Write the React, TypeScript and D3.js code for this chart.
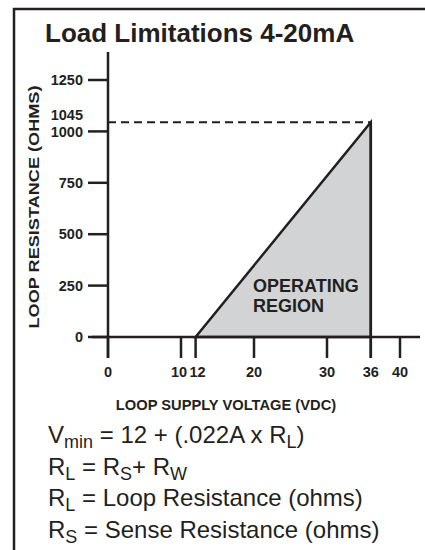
import * as d3 from "d3";

// chart values
const xTicks = [0, 10, 12, 20, 30, 36, 40];
const yTicks = [0, 250, 500, 750, 1000, 1250];
const xDomain = [0, 40];
const yDomain = [0, 1250];
const maxLoad = 1045;
// operating region corners: [volts, ohms]
const region: [number, number][] = [
  [12, 0],
  [36, 1045],
  [36, 0],
];

// formula lines: [text, isSubscript]
const formulas: [string, boolean][][] = [
  [["V", false], ["min", true], [" = 12 + (.022A x R", false], ["L", true], [")", false]],
  [["R", false], ["L", true], [" = R", false], ["S", true], ["+ R", false], ["W", true]],
  [["R", false], ["L", true], [" = Loop Resistance (ohms)", false]],
  [["R", false], ["S", true], [" = Sense Resistance (ohms)", false]],
];

const ink = "#231f20";
const font = "'Liberation Sans', Arial, Helvetica, sans-serif";

const App = () => {
  const W = 425;
  const H = 550;

  const x = d3.scaleLinear().domain(xDomain).range([108, 400]);
  const y = d3.scaleLinear().domain(yDomain).range([337, 80]);

  const area = d3
    .line<[number, number]>()
    .x((d) => x(d[0]))
    .y((d) => y(d[1]))
    .curve(d3.curveLinearClosed);

  const subDrop = 5;
  // nudge the crowded 10 / 12 labels apart
  const labelNudge = (t: number) => (t === 10 ? -2 : t === 12 ? 2 : 0);

  return (
    <svg
      width={W}
      height={H}
      style={{ position: "absolute", left: 0, top: 0, fontFamily: font }}
    >
      <rect width={W} height={H} fill="#fff" />
      {/* frame */}
      <path d={`M14,${H} V9 H${W}`} fill="none" stroke={ink} strokeWidth={2.5} />

      <text x={45} y={42} fontSize={26} fontWeight="bold" fill={ink}>
        Load Limitations 4-20mA
      </text>

      {/* operating region */}
      <path d={area(region) || ""} fill="#d1d3d4" stroke={ink} strokeWidth={2.5} />
      <line
        x1={x(36)}
        x2={x(36)}
        y1={y(maxLoad)}
        y2={358}
        stroke={ink}
        strokeWidth={2.5}
      />
      <line
        x1={x(0)}
        x2={x(36)}
        y1={y(maxLoad)}
        y2={y(maxLoad)}
        stroke={ink}
        strokeWidth={2}
        strokeDasharray="8,5"
      />
      <text fontSize={18} fontWeight="bold" fill={ink}>
        <tspan x={253} y={292}>OPERATING</tspan>
        <tspan x={253} y={312}>REGION</tspan>
      </text>

      {/* y axis */}
      <line x1={108} x2={108} y1={52} y2={358} stroke={ink} strokeWidth={2.5} />
      {yTicks.map((t) => (
        <g key={t} transform={`translate(0,${y(t)})`}>
          <line x1={88} x2={108} stroke={ink} strokeWidth={2.5} />
          <text
            x={83}
            dy="0.36em"
            textAnchor="end"
            fontSize={14.5}
            fontWeight="bold"
            fill={ink}
          >
            {t}
          </text>
        </g>
      ))}
      <text
        x={83}
        y={y(maxLoad) - 7}
        dy="0.36em"
        textAnchor="end"
        fontSize={14.5}
        fontWeight="bold"
        fill={ink}
      >
        {maxLoad}
      </text>
      <text
        transform={`translate(39,207) rotate(-90)`}
        textAnchor="middle"
        fontSize={14.5}
        fontWeight="bold"
        fill={ink}
        textLength={243}
        lengthAdjust="spacingAndGlyphs"
      >
        LOOP RESISTANCE (OHMS)
      </text>

      {/* x axis */}
      <line x1={92} x2={420} y1={y(0)} y2={y(0)} stroke={ink} strokeWidth={2.5} />
      {xTicks.map((t) => (
        <g key={t} transform={`translate(${x(t)},0)`}>
          <line y1={y(0)} y2={358} stroke={ink} strokeWidth={2.5} />
          <text
            x={labelNudge(t)}
            y={377}
            textAnchor="middle"
            fontSize={14.5}
            fontWeight="bold"
            fill={ink}
          >
            {t}
          </text>
        </g>
      ))}
      <text
        x={226}
        y={410}
        textAnchor="middle"
        fontSize={14.7}
        fontWeight="bold"
        fill={ink}
      >
        LOOP SUPPLY VOLTAGE (VDC)
      </text>

      {/* formulas */}
      {formulas.map((parts, i) => (
        <text key={i} x={48} y={443 + i * 31.5} fontSize={24} fill={ink}>
          {parts.map(([s, isSub], j) => {
            const prevSub = j > 0 && parts[j - 1][1];
            const dy = isSub ? subDrop : prevSub ? -subDrop : 0;
            return (
              <tspan key={j} dy={dy} fontSize={isSub ? 18 : 24}>
                {s}
              </tspan>
            );
          })}
        </text>
      ))}
    </svg>
  );
};

export default App;
